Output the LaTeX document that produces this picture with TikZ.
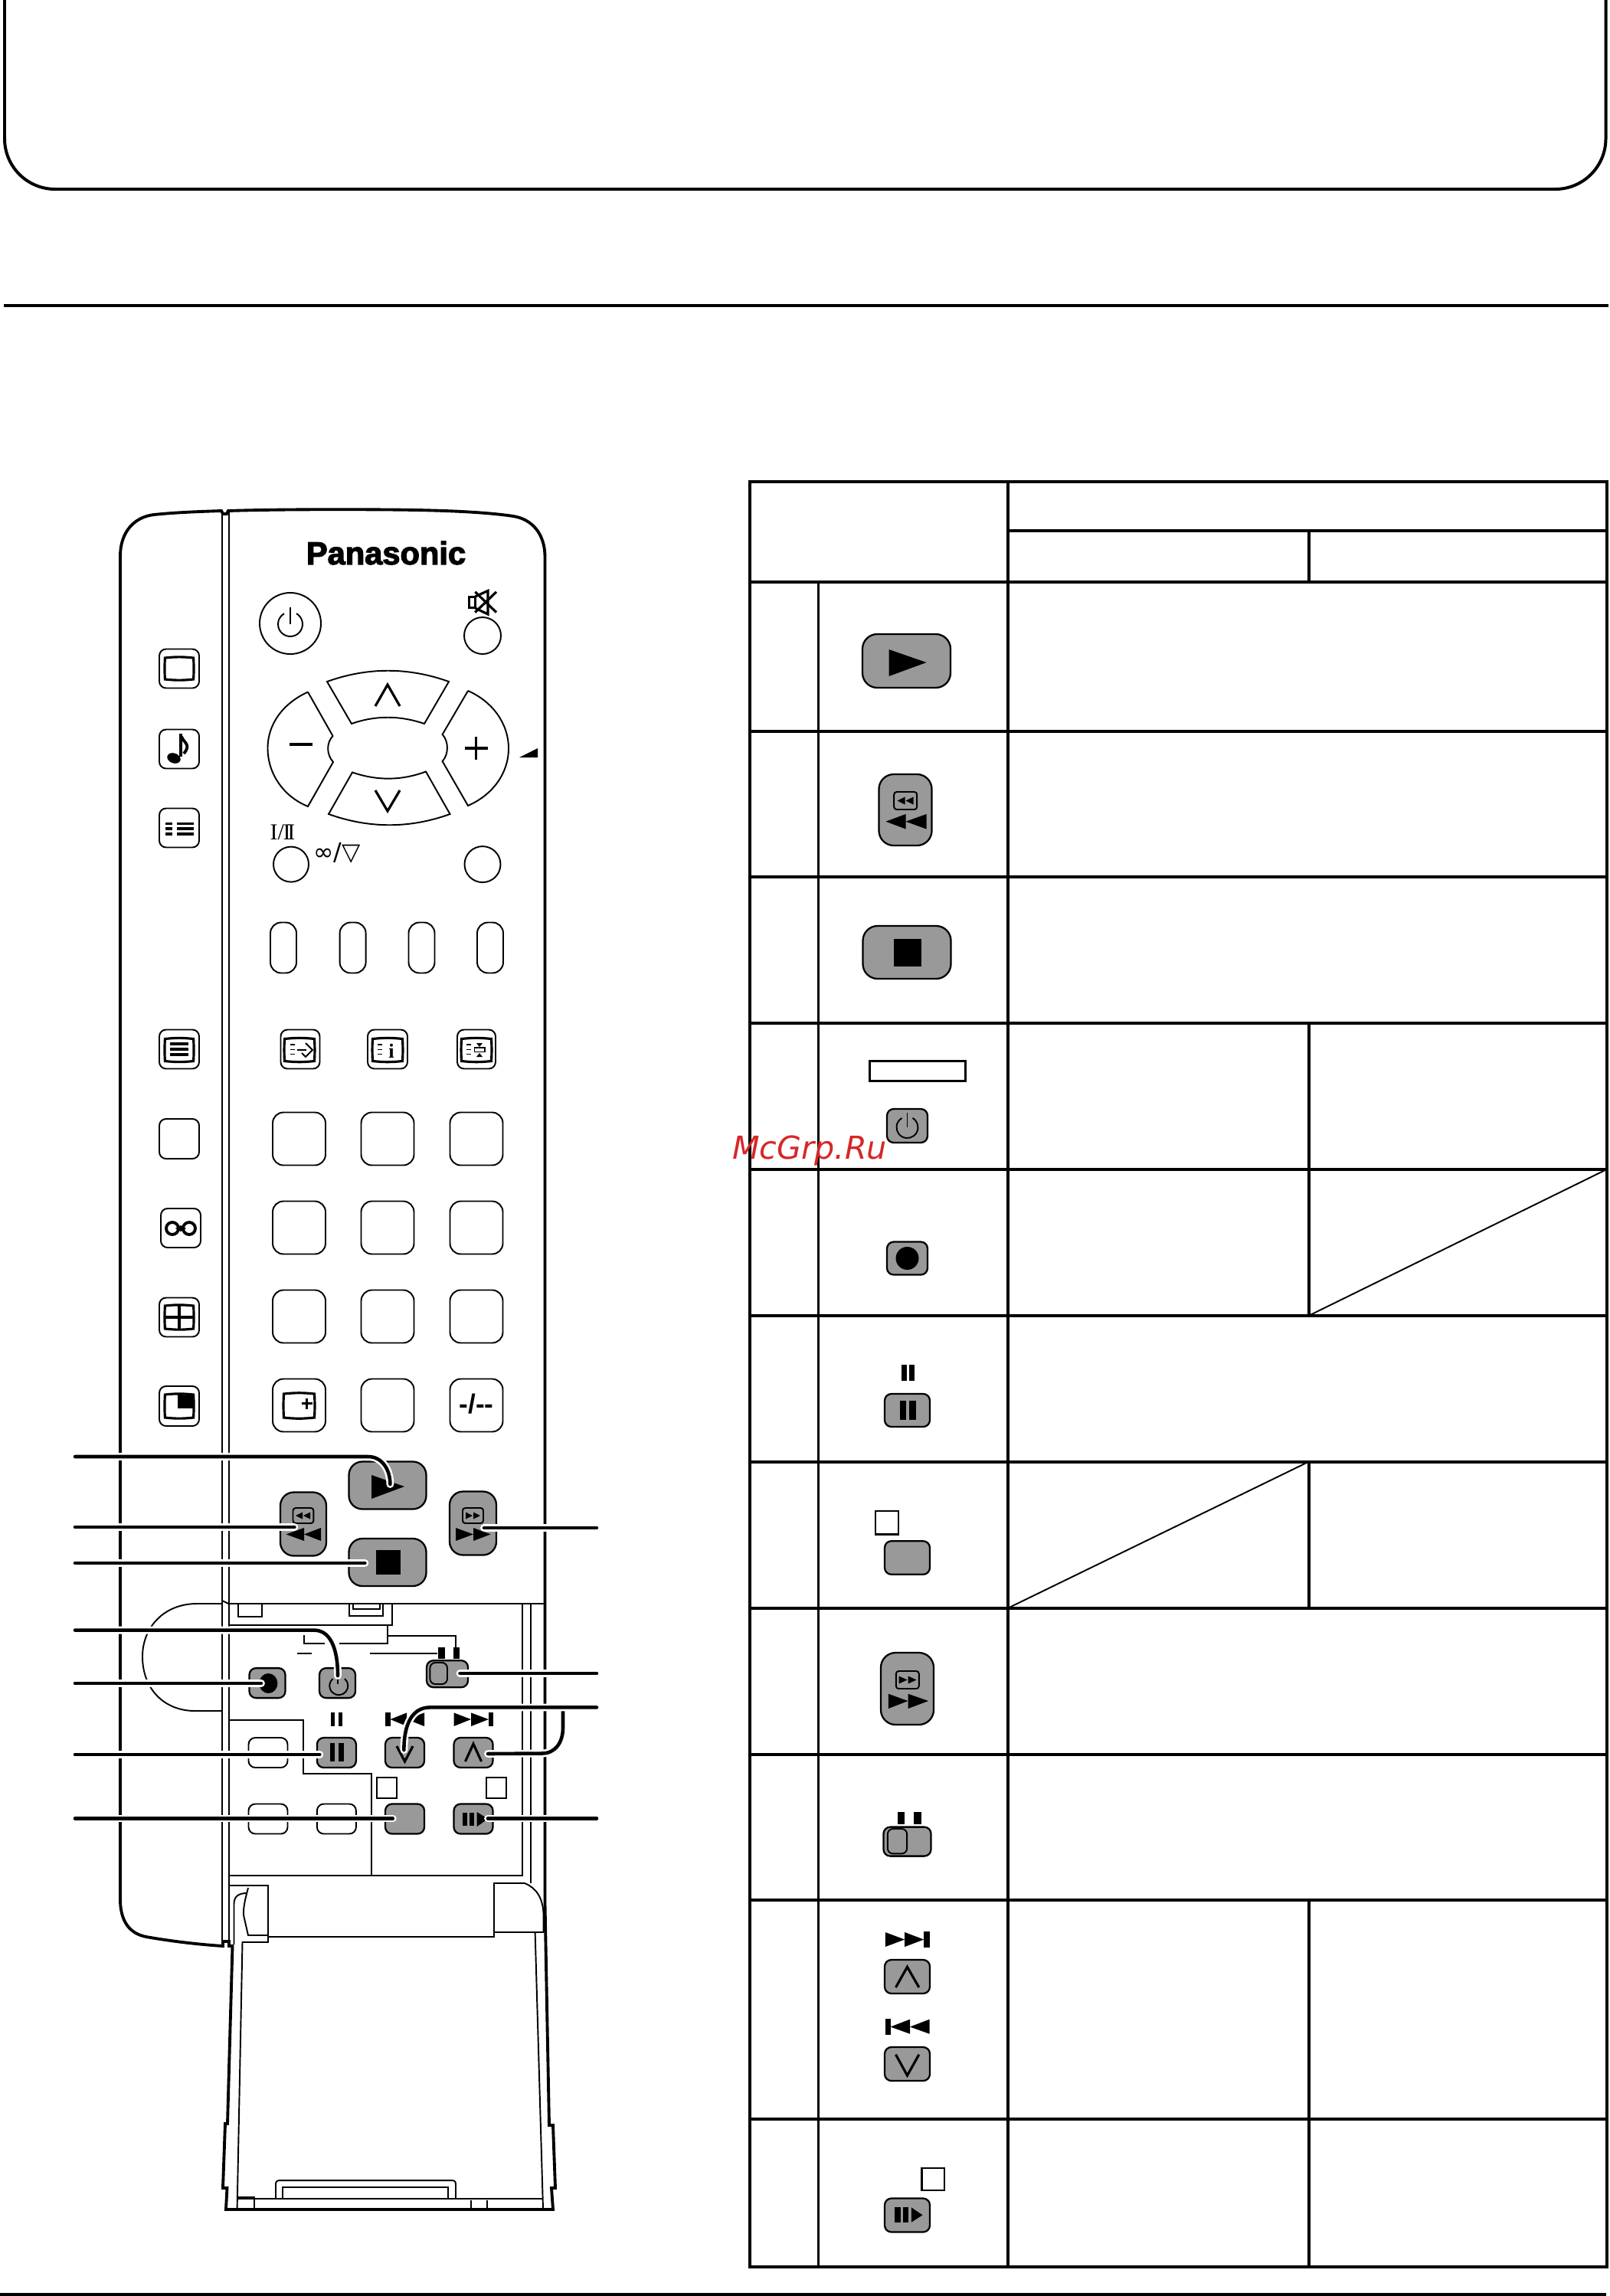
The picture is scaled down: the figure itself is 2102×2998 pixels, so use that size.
\documentclass[tikz,border=0pt]{standalone}
\usepackage{fontspec}
\usepackage{tikz}
\newfontfamily\sanslogo{Liberation Sans}
\newfontfamily\heavylogo[BoldFeatures={FakeBold=3}]{Liberation Sans}
\newfontfamily\seriflabel{Liberation Serif}
\newfontfamily\dejalabel{DejaVu Sans}
\definecolor{keyfill}{HTML}{999999}
\definecolor{markred}{HTML}{D62728}
\def\px{0.02cm}
\tikzstyle{bodyline} = [line width=2.2pt,line join=miter]
\tikzstyle{thinline} = [line width=1.1pt]
\tikzstyle{tabline} = [line width=2.27pt]
\tikzstyle{iconline} = [line width=1.8pt]
\tikzstyle{lead} = [line width=2.6pt,line cap=round,preaction={draw,white,line width=5.6pt,line cap=round}]
\tikzset{box/.style 2 args={rectangle,minimum width=#1*\px,minimum height=#2*\px,inner sep=0pt,outer sep=0pt}}
\tikzstyle{keywhite} = [draw,thinline,fill=white,rounded corners=5pt]
\tikzstyle{keygray} = [draw,line width=1.3pt,fill=keyfill,rounded corners=5pt]
\tikzstyle{tagbox} = [draw,line width=1.3pt,fill=white]
\newcommand{\tvscreen}[4]{\draw[iconline] (#1-#3,#2-#4) to[bend left=6] (#1+#3,#2-#4) to[bend left=3] (#1+#3,#2+#4) to[bend left=6] (#1-#3,#2+#4) to[bend left=3] cycle;}
\newcommand{\powermark}[3]{\draw[thinline] ([shift={(60:#3*\px)}]#1,#2) arc[start angle=60,end angle=-240,radius=#3*\px];\draw[thinline] (#1,#2-#3*1.35) -- (#1,#2);}
\begin{document}
\begin{tikzpicture}[x=\px,y=-\px]
\useasboundingbox (0,0) rectangle (2102,2998);

% Page frame and rules
\draw[line width=2.27pt] (6,-10) -- (6,181) arc[start angle=180,end angle=270,radius=66*\px] -- (2030.5,247) arc[start angle=-90,end angle=0,radius=66*\px] -- (2096.5,-10);
\draw[tabline] (5,399) -- (2100,399);
\draw[tabline] (0,2996) -- (2097,2996);

% Remote body
\draw[bodyline] (157,2483) -- (157,726) .. controls (157,695) and (175,675) .. (201,672) .. controls (230,669) and (260,668) .. (289,667) -- (291,671) -- (296,671) -- (298,667) .. controls (360,665) and (450,665) .. (506,665.5) .. controls (570,666) and (630,668) .. (670,674) .. controls (695,678) and (711,697) .. (711.5,726) -- (711.5,2486);
\draw[bodyline] (157,2483) .. controls (158,2510) and (170,2525) .. (191,2529) .. controls (225,2535) and (260,2539) .. (291,2541) -- (291,2535) -- (299,2535) -- (299,2541) -- (303.5,2541) -- (297,2773) -- (294,2773) -- (291,2857) -- (296.5,2857) -- (295,2885) -- (722,2885) -- (720,2857) -- (725,2857) -- (722,2775) -- (717,2775) -- (711.5,2486);
\draw[thinline] (290,668) -- (290,2536);
\draw[thinline] (299,668) -- (299,2536);

% Logo and top keys
\node (logo) at (504,722) {\heavylogo\fontsize{23.7pt}{24pt}\selectfont\bfseries Panasonic};
\node[draw,thinline,circle,minimum size=80*\px,inner sep=0pt] (powerKey) at (379,814) {};
\powermark{379}{815}{16}
\node[draw,thinline,circle,minimum size=48*\px,inner sep=0pt] (muteKey) at (630,830) {};
\draw[iconline] (612.4,779.5) rectangle (620.3,793.8);
\draw[iconline] (620.3,779) -- (637,771.4) -- (637,802) -- (620.3,794);
\draw[iconline] (620.3,772.8) -- (648,799.6);
\draw[iconline] (648,772.8) -- (620.3,799.6);

% Direction keys
\draw[thinline] (427,890) .. controls (480,871) and (533,871) .. (586,890) -- (554,945) .. controls (522,934) and (490,934) .. (459,945) -- cycle;
\draw[thinline] (429,1063) .. controls (482,1082) and (535,1082) .. (587.5,1063) -- (556,1007.5) .. controls (524,1019.5) and (492,1019.5) .. (460,1008.5) -- cycle;
\draw[thinline] (402,903.6) -- (434.5,961) .. controls (426,970) and (426,985) .. (435,995) -- (402,1053) .. controls (370,1040) and (349.5,1010) .. (349.5,977) .. controls (349.5,945) and (370,918) .. (402,903.6);
\draw[thinline] (611,902) -- (577.6,959) .. controls (586,968) and (586,985) .. (577.6,994) -- (611,1052) .. controls (643,1038) and (664,1010) .. (664,977) .. controls (664,945) and (643,916) .. (611,902);
\draw[iconline] (490,922) -- (506,894) -- (522,922);
\draw[iconline] (490,1032) -- (506,1059) -- (522,1032);
\draw[iconline] (378,972) -- (408,972);
\draw[iconline] (606.5,977) -- (636.5,977);
\draw[iconline] (621.5,962) -- (621.5,992);
\fill (678,989) -- (702,989) -- (702,977) -- cycle;

% Sound keys
\node (dualLabel) at (369,1087) {\seriflabel\fontsize{17pt}{17pt}\selectfont I/\kern-0.04em I\kern-0.14em I};
\node (stereoLabel) at (440,1114) {\dejalabel\fontsize{18pt}{18pt}\selectfont ∞/▽};
\node[draw,thinline,circle,minimum size=46*\px,inner sep=0pt] (dualKey) at (380,1128.6) {};
\node[draw,thinline,circle,minimum size=47*\px,inner sep=0pt] (soundKey) at (630,1128.6) {};

% Coloured pills
\node[keywhite,box={34}{66},rounded corners=8pt] (pillA) at (370,1237.5) {};
\node[keywhite,box={34}{66},rounded corners=8pt] (pillB) at (460.6,1237.5) {};
\node[keywhite,box={34}{66},rounded corners=8pt] (pillC) at (550.5,1237.5) {};
\node[keywhite,box={34}{66},rounded corners=8pt] (pillD) at (640,1237.5) {};

% Strip keys
\node[keywhite,box={52}{51}] (stripA) at (234,873) {};
\tvscreen{234}{873}{18.6}{14}
\node[keywhite,box={52}{51}] (stripB) at (234,978) {};
\fill[rotate around={-20:(227,990)}] (227,990) ellipse [x radius=9*\px,y radius=6.5*\px];
\draw[line width=2.2pt] (236,958) -- (236,988);
\draw[line width=2.2pt] (237,962) .. controls (240,970) and (250,972) .. (240,984);
\node[keywhite,box={52}{51}] (stripC) at (234,1081) {};
\draw[iconline] (216,1075.4) -- (225,1075.4) (231,1075.4) -- (252.6,1075.4);
\draw[iconline] (216,1082) -- (225,1082) (231,1082) -- (252.6,1082);
\draw[iconline] (216,1089) -- (225,1089) (231,1089) -- (252.6,1089);
\node[keywhite,box={52}{51}] (stripD) at (234,1370) {};
\tvscreen{234}{1371}{18.6}{14.5}
\draw[iconline] (222,1363) -- (245.5,1363);
\draw[iconline] (222,1370) -- (245.5,1370);
\draw[iconline] (222,1377) -- (245.5,1377);
\node[keywhite,box={52}{52}] (stripE) at (234,1487) {};
\node[keywhite,box={52}{51}] (stripF) at (236,1603.5) {};
\draw[line width=2.2pt] (225,1604) circle[radius=8*\px];
\draw[line width=2.2pt] (247,1604) circle[radius=8*\px];
\fill (229,1604) -- (236,1600) -- (243,1604) -- (236,1608) -- cycle;
\node[keywhite,box={52}{51}] (stripG) at (234,1720) {};
\tvscreen{234}{1720}{18.6}{15}
\draw[iconline] (234,1705) -- (234,1735);
\draw[iconline] (216,1720) -- (252,1720);
\node[keywhite,box={52}{52}] (stripH) at (234,1836) {};
\fill (234,1821) -- (252.6,1822) -- (252.6,1837.7) -- (234,1837.7) -- cycle;
\tvscreen{234}{1836}{18.6}{15}
\draw[iconline] (234,1821) -- (234,1837.7) -- (252.6,1837.7);

% Teletext keys
\node[keywhite,box={51}{51}] (textA) at (392,1370) {};
\tvscreen{391}{1371}{19.5}{14.5}
\draw[thinline] (379,1364) -- (385,1364) (379,1370.5) -- (385,1370.5) (379,1376.5) -- (385,1376.5);
\draw[thinline] (399,1362) -- (408,1371) -- (399,1380) -- (394,1375);
\draw[thinline] (388,1371) -- (400,1371);
\node[keywhite,box={52}{51}] (textB) at (506,1370) {};
\tvscreen{506}{1371}{19.5}{14.5}
\draw[thinline] (493,1364) -- (499,1364) (493,1370.5) -- (499,1370.5) (493,1376.5) -- (499,1376.5);
\node[inner sep=0pt] (infoMark) at (511,1372) {\seriflabel\fontsize{15pt}{15pt}\selectfont\bfseries i};
\node[keywhite,box={50}{51}] (textC) at (622,1370) {};
\tvscreen{622}{1371}{19.5}{14.5}
\draw[thinline] (609,1364) -- (615,1364) (609,1370.5) -- (615,1370.5) (609,1376.5) -- (615,1376.5);
\draw[thinline] (619.5,1368) rectangle (633,1373.5);
\fill (622,1362) -- (630,1362) -- (626,1367) -- cycle;
\fill (622,1380) -- (630,1380) -- (626,1375) -- cycle;

% Number keys
\node[keywhite,box={69}{69},rounded corners=8pt] (numA) at (390.5,1487) {};
\node[keywhite,box={69}{69},rounded corners=8pt] (numB) at (506,1487) {};
\node[keywhite,box={69}{69},rounded corners=8pt] (numC) at (622,1487) {};
\node[keywhite,box={69}{69},rounded corners=8pt] (numD) at (390.5,1603) {};
\node[keywhite,box={69}{69},rounded corners=8pt] (numE) at (506,1603) {};
\node[keywhite,box={69}{69},rounded corners=8pt] (numF) at (622,1603) {};
\node[keywhite,box={69}{69},rounded corners=8pt] (numG) at (390.5,1719) {};
\node[keywhite,box={69}{69},rounded corners=8pt] (numH) at (506,1719) {};
\node[keywhite,box={69}{69},rounded corners=8pt] (numI) at (622,1719) {};
\node[keywhite,box={69}{69},rounded corners=8pt] (numJ) at (390.5,1835) {};
\node[keywhite,box={69}{69},rounded corners=8pt] (numK) at (506,1835) {};
\node[keywhite,box={69}{69},rounded corners=8pt] (numL) at (622,1835) {};
\tvscreen{390.5}{1835.5}{20}{15.5}
\draw[line width=1.9pt] (400.5,1825.5) -- (400.5,1840) (393.5,1832.7) -- (407.5,1832.7);
\node (dashLabel) at (622,1833) {\sanslogo\fontsize{20pt}{20pt}\selectfont\bfseries -/--};

% VCR keys
\node[keygray,box={101}{62},rounded corners=10pt] (playKey) at (506,1939.5) {};
\fill (485,1926) -- (485,1957) -- (528,1941) -- cycle;
\node[keygray,box={60}{83},rounded corners=10pt] (rewKey) at (396,1990) {};
\draw[thinline,rounded corners=2pt] (382.5,1969) rectangle (409.4,1989);
\fill (386,1979) -- (395,1974.5) -- (395,1983.5) -- cycle;
\fill (396,1979) -- (405,1974.5) -- (405,1983.5) -- cycle;
\fill (373.5,2003.4) -- (397,1995) -- (397,2012) -- cycle;
\fill (397,2003.4) -- (419,1995) -- (419,2012) -- cycle;
\node[keygray,box={61}{83},rounded corners=10pt] (ffKey) at (617.5,1989) {};
\draw[thinline,rounded corners=2pt] (604,1969) rectangle (631,1989);
\fill (608,1974.5) -- (608,1983.5) -- (617,1979) -- cycle;
\fill (618,1974.5) -- (618,1983.5) -- (627,1979) -- cycle;
\fill (595,1995) -- (595,2012) -- (618,2003.4) -- cycle;
\fill (618,1995) -- (618,2012) -- (640.6,2003.4) -- cycle;
\node[keygray,box={101}{62},rounded corners=10pt] (stopKey) at (506,2040) {};
\fill (491,2024) rectangle (523,2056);

% Lower panel
\draw[thinline] (290,2090) -- (298.5,2094) -- (711.5,2094);
\draw[thinline] (290,2094) -- (257,2094) .. controls (214,2094) and (186,2125) .. (186,2163) .. controls (186,2205) and (214,2234) .. (254.6,2234) -- (289,2234);
\draw[thinline] (311,2094) -- (311,2111) -- (342,2111) -- (342,2094);
\draw[thinline] (456,2094) -- (456,2110) -- (500,2110) -- (500,2094);
\draw[thinline] (461,2094) -- (461,2101) -- (496,2101) -- (496,2094);
\draw[thinline] (298.5,2122) -- (512,2122) -- (512,2094);
\draw[thinline] (506,2122) -- (506,2145.6) -- (443,2145.6);
\draw[thinline] (397,2135) -- (397,2145.6) -- (424,2145.6);
\draw[thinline] (506,2136) -- (595.4,2136) -- (595.4,2151);
\draw[thinline] (387.7,2159) -- (407,2159);
\draw[thinline] (482.5,2159) -- (571,2159);
\fill (572,2151.4) rectangle (581,2166);
\fill (591.6,2151.4) rectangle (600,2166);
\draw[thinline] (298.5,2246) -- (396,2246) -- (396,2316.4) -- (485,2316.4) -- (485,2449);
\draw[thinline] (298.5,2449) -- (681.7,2449) -- (681.7,2094);
\draw[thinline] (693,2094) -- (693,2459);
\draw[thinline] (645,2523.4) -- (645,2459) -- (685,2459) .. controls (700,2465) and (709,2478) .. (709.6,2500) -- (709.6,2523.4);

% Lower keys
\node[keygray,box={47}{39}] (recKey) at (349,2197.6) {};
\fill (350.4,2198) ellipse [x radius=12*\px,y radius=13*\px];
\node[keygray,box={47}{39}] (timerKey) at (440.5,2197.6) {};
\draw[thinline] (450,2192) arc[start angle=50,end angle=-230,radius=12*\px];
\draw[thinline] (441,2185) -- (441,2199);
\node[keygray,box={54}{35}] (slideKey) at (584,2185.7) {};
\draw[thinline,fill=keyfill,rounded corners=4pt] (561.4,2171) rectangle (584,2199);
\fill (432,2235.6) rectangle (437,2254);
\fill (442,2235.6) rectangle (447,2254);
\node[keygray,box={51}{39}] (pauseKey) at (439.4,2288.5) {};
\fill (430.6,2276) rectangle (436.8,2300);
\fill (442.4,2276) rectangle (448.6,2300);
\node[keywhite,box={51}{39}] (blankA) at (350,2288.5) {};
\node[keywhite,box={51}{39}] (blankB) at (350,2375) {};
\node[keywhite,box={51}{39}] (blankC) at (439.4,2375) {};
\fill (503,2236.4) rectangle (509.5,2254);
\fill (509.5,2245) -- (531,2236.4) -- (531,2254) -- cycle;
\fill (531,2245) -- (554,2236.4) -- (554,2254) -- cycle;
\fill (592.5,2236.4) -- (592.5,2254) -- (615,2245) -- cycle;
\fill (615,2236.4) -- (615,2254) -- (638,2245) -- cycle;
\fill (638,2236.4) rectangle (644,2254);
\node[keygray,box={51}{39}] (downKey) at (528.5,2288.5) {};
\draw[iconline] (518,2280) -- (528.5,2300) -- (539,2280);
\node[keygray,box={51}{39}] (upKey) at (618,2288.5) {};
\draw[iconline] (607.5,2300) -- (618,2277) -- (628.5,2300);
\node[tagbox,box={26}{27}] (tagA) at (505,2334.5) {};
\node[tagbox,box={26}{27}] (tagB) at (648,2334.5) {};
\node[keygray,box={51}{39}] (grayKey) at (528.5,2375) {};
\node[keygray,box={51}{39}] (stepKey) at (618,2375) {};
\fill (604,2367.4) rectangle (609.6,2384);
\fill (613.3,2367.4) rectangle (619,2384);
\fill (622.7,2366) -- (622.7,2385) -- (637,2375) -- cycle;

% Battery door
\draw[thinline] (299,2462) -- (350,2462) -- (350,2536) -- (316.5,2536) -- (309.6,2884);
\draw[thinline] (350,2529) -- (645,2529) -- (645,2523.4) -- (709.6,2523.4);
\draw[thinline] (698.6,2523.4) -- (709,2884);
\draw[thinline] (305.5,2539) -- (305.5,2486) .. controls (305.5,2476) and (312,2472) .. (322,2472);
\draw[thinline] (324,2465) .. controls (320,2480) and (316,2496) .. (319,2505) -- (324,2527) -- (350,2527);
\draw[thinline] (309.6,2871) -- (709,2871);
\draw[thinline] (309.6,2869) -- (332,2869) -- (332,2884);
\draw[thinline] (615,2872.6) -- (615,2884);
\draw[thinline] (636,2872.6) -- (636,2884);
\draw[thinline] (360,2871) -- (360,2852) .. controls (360,2848) and (362,2847) .. (366,2847) -- (589,2847) .. controls (593,2847) and (595,2848) .. (595,2852) -- (595,2871);
\draw[thinline] (369,2871) -- (369,2856) -- (585,2856) -- (585,2871);

% Callout ends
\coordinate (leadA) at (98,1902);
\coordinate (leadB) at (98,1994);
\coordinate (leadC) at (98,2041);
\coordinate (leadD) at (98,2128.6);
\coordinate (leadE) at (98,2198);
\coordinate (leadF) at (98,2291);
\coordinate (leadG) at (98,2374.5);
\coordinate (leadH) at (779,1995);
\coordinate (leadI) at (779,2185);
\coordinate (leadJ) at (779,2229.4);
\coordinate (leadK) at (779,2374.5);
\coordinate (tipA) at (509.4,1938);
\coordinate (tipB) at (384.4,1994);
\coordinate (tipC) at (476.4,2041);
\coordinate (tipD) at (441,2188);
\coordinate (tipE) at (341,2198);
\coordinate (tipF) at (417.4,2291);
\coordinate (tipG) at (512.8,2374.5);
\coordinate (tipH) at (632,1995);
\coordinate (tipI) at (600.5,2185);
\coordinate (tipJ) at (527.4,2285);
\coordinate (tipJb) at (637,2290);
\coordinate (tipK) at (637,2374.5);

\draw[lead] (leadA) -- (481,1902) .. controls (498,1902) and (509.4,1918) .. (tipA);
\draw[lead] (leadB) -- (tipB);
\draw[lead] (leadC) -- (tipC);
\draw[lead] (leadD) -- (410,2128.6) .. controls (430,2128.6) and (441,2150) .. (tipD);
\draw[lead] (leadE) -- (tipE);
\draw[lead] (leadF) -- (tipF);
\draw[lead] (leadG) -- (tipG);
\draw[lead] (leadH) -- (tipH);
\draw[lead] (leadI) -- (tipI);
\draw[lead] (tipJb) -- (707.7,2289.5) .. controls (725,2289.5) and (735,2275) .. (735,2256) -- (735,2229.4);
\draw[lead] (leadJ) -- (561.4,2229.4) .. controls (540,2229.4) and (527.4,2248) .. (tipJ);
\draw[lead] (leadK) -- (tipK);

\begin{scope}[xshift=-1.5*\px]
% Table frame
\draw[tabline] (980,629) rectangle (2099,2960);
\draw[tabline] (1317,629) -- (1317,2960);
\draw[tabline] (1317,692.7) -- (2099,692.7);
\draw[tabline] (1710,692.7) -- (1710,760);
\draw[tabline] (980,760) -- (2099,760);
\draw[line width=2pt] (1070,762) -- (1070,2960);
\draw[tabline] (980,954.5) -- (2099,954.5);
\draw[tabline] (980,1145) -- (2099,1145);
\draw[tabline] (980,1336) -- (2099,1336);
\draw[tabline] (980,1527) -- (2099,1527);
\draw[tabline] (980,1718) -- (2099,1718);
\draw[tabline] (980,1908.7) -- (2099,1908.7);
\draw[tabline] (980,2100) -- (2099,2100);
\draw[tabline] (980,2290.8) -- (2099,2290.8);
\draw[tabline] (980,2480.6) -- (2099,2480.6);
\draw[tabline] (980,2767) -- (2099,2767);
\draw[tabline] (1710,1336) -- (1710,1718);
\draw[tabline] (1710,1908.7) -- (1710,2100);
\draw[tabline] (1710,2480.6) -- (1710,2960);
\draw[thinline] (1710,1718) -- (2099,1527);
\draw[thinline] (1317,2100) -- (1710,1908.7);

% Table keys
\node[keygray,box={115}{70},rounded corners=11pt] (rowPlay) at (1185,863) {};
\fill (1162,848) -- (1162,883) -- (1211,865) -- cycle;
\node[keygray,box={69}{93},rounded corners=11pt] (rowRew) at (1183.5,1057.5) {};
\draw[thinline,rounded corners=2pt] (1168.7,1034) rectangle (1198.7,1057);
\fill (1173,1045.5) -- (1183,1040.5) -- (1183,1050.5) -- cycle;
\fill (1184,1045.5) -- (1194,1040.5) -- (1194,1050.5) -- cycle;
\fill (1158,1072.7) -- (1184,1063) -- (1184,1082.5) -- cycle;
\fill (1184,1072.7) -- (1211,1063) -- (1211,1082.5) -- cycle;
\node[keygray,box={115}{69},rounded corners=11pt] (rowStop) at (1185.5,1243.5) {};
\fill (1168,1226) rectangle (1204,1262);
\node[tagbox,box={125}{26}] (rowTagA) at (1199.5,1398.5) {};
\node[keygray,box={53}{44}] (rowPower) at (1186,1470) {};
\powermark{1186}{1472}{14}
\node[keygray,box={53}{43}] (rowRec) at (1186,1643) {};
\fill (1186,1643) ellipse [x radius=15*\px,y radius=15*\px];
\fill (1178,1782) rectangle (1185.3,1803);
\fill (1188,1782) rectangle (1195,1803);
\node[keygray,box={59}{43}] (rowPause) at (1186,1841.5) {};
\fill (1176,1829) rectangle (1184,1854);
\fill (1188,1829) rectangle (1197,1854);
\node[tagbox,box={29.6}{30.6}] (rowTagB) at (1159.5,1988.3) {};
\node[keygray,box={59}{43.6}] (rowGray) at (1186,2034) {};
\node[keygray,box={69}{94},rounded corners=11pt] (rowFf) at (1186,2205) {};
\draw[thinline,rounded corners=2pt] (1171.3,2182) rectangle (1201.3,2205);
\fill (1175,2188.5) -- (1175,2198.5) -- (1186,2193.5) -- cycle;
\fill (1187,2188.5) -- (1187,2198.5) -- (1198,2193.5) -- cycle;
\fill (1161.3,2211.7) -- (1161.3,2231) -- (1187,2221) -- cycle;
\fill (1187,2211.7) -- (1187,2231) -- (1213.7,2221) -- cycle;
\fill (1173,2365.8) rectangle (1182,2382);
\fill (1194.3,2365.8) rectangle (1204,2382);
\node[keygray,box={62}{38}] (rowSlide) at (1186,2404.6) {};
\draw[thinline,fill=keyfill,rounded corners=4pt] (1160.3,2388) rectangle (1185.7,2420.4);
\fill (1157.3,2523) -- (1157.3,2542) -- (1182.7,2532.5) -- cycle;
\fill (1182.7,2523) -- (1182.7,2542) -- (1207.7,2532.5) -- cycle;
\fill (1207.7,2522) rectangle (1215,2543);
\node[keygray,box={59}{44}] (rowUp) at (1186,2581) {};
\draw[iconline] (1171,2595) -- (1186,2568.3) -- (1201.3,2595);
\fill (1157.3,2636) rectangle (1164,2657);
\fill (1164,2646.5) -- (1189.5,2636.7) -- (1189.5,2655.7) -- cycle;
\fill (1189.5,2646.5) -- (1215,2636.7) -- (1215,2655.7) -- cycle;
\node[keygray,box={59}{44}] (rowDown) at (1186,2695) {};
\draw[iconline] (1171,2682.7) -- (1186,2710) -- (1201.3,2682.7);
\node[tagbox,box={29.3}{29.3}] (rowTagC) at (1219.7,2845.4) {};
\node[keygray,box={59}{44}] (rowStep) at (1186,2892.5) {};
\fill (1169.7,2882.3) rectangle (1177.3,2901.7);
\fill (1180,2882.3) rectangle (1187.3,2901.7);
\fill (1191.3,2882.3) -- (1191.3,2901.7) -- (1206,2892.3) -- cycle;
\end{scope}

% Watermark
\node[text=markred,anchor=base west,inner sep=0pt] (mark) at (956,1513) {\dejalabel\fontsize{23.5pt}{24pt}\selectfont\itshape McGrp.Ru};
\end{tikzpicture}
\end{document}
